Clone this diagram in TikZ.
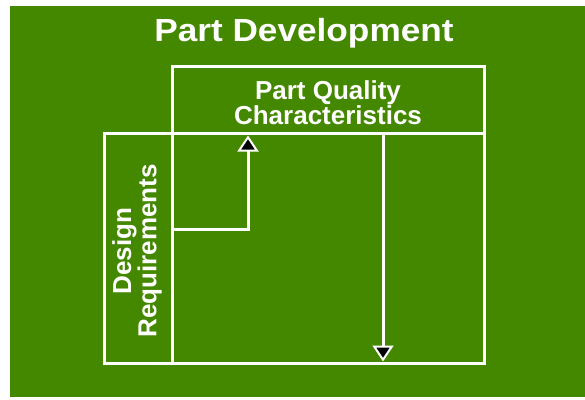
\documentclass[tikz,border=0pt]{standalone}
\usepackage{fontspec}
\setmainfont{Liberation Sans}
\usetikzlibrary{arrows.meta, positioning, calc}
\definecolor{leafgreen}{RGB}{68,136,0}

\begin{document}
\begin{tikzpicture}[x=1pt, y=-1pt,
  frame/.style = {draw=white, line width=3pt, inner sep=0pt, outer sep=0pt},
  lbl/.style   = {text=white, font=\fontsize{26}{24}\selectfont\bfseries,
                  align=center, inner sep=0pt},
  flow/.style  = {draw=white, line width=3pt,
                  -{Triangle[width=21pt, length=16pt, line width=2pt, fill=black]}},
]
\useasboundingbox (0,0) rectangle (585,399);
\fill[leafgreen] (10,6) rectangle (585,397);

%% title
\node[text=white, font=\fontsize{32}{36}\selectfont\bfseries, anchor=base]
  (title) at (304,41) {\scalebox{1.1}[1]{Part Development}};

%% frames
\node[frame, minimum width=312pt, minimum height=67pt] (qual) at (328,99.5) {};
\node[frame, minimum width=312pt, minimum height=230pt, below=0pt of qual] (mat) {};
\node[frame, minimum width=68pt, minimum height=230pt, left=0pt of mat] (req) {};

%% labels
\node[lbl] (qualtext) at (328,103) {Part Quality\\Characteristics};
\node[lbl, rotate=90] (reqtext) at (137,251) {Design\\Requirements};

%% flows
\coordinate (upbend) at (248,229);
\coordinate (dnx) at (383,0);
\draw[flow, shorten >=2.5pt] (req.east |- upbend) -| (qual.south -| upbend);
\draw[flow, shorten >=1.5pt] (qual.south -| dnx) -- (mat.south -| dnx);

\end{tikzpicture}
\end{document}
